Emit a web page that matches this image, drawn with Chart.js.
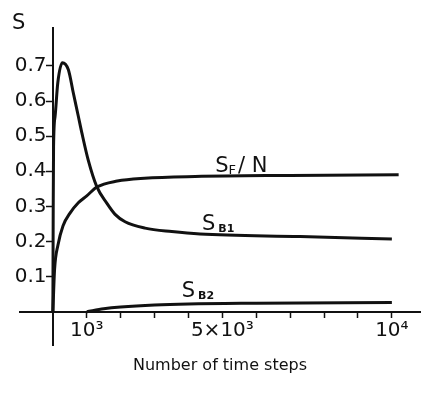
<!DOCTYPE html>
<html>
<head>
<meta charset="utf-8">
<script src="https://cdn.jsdelivr.net/npm/chart.js@4/dist/chart.umd.min.js"></script>
<style>
  body { margin: 0; background: #fff; }
  #wrap { width: 429px; height: 394px; }
</style>
</head>
<body>
<div id="wrap"><canvas id="chart1" width="429" height="394"></canvas></div>
<script>
    // time steps and values
    var sfnSteps = [0, 50, 150, 300, 500, 750, 1000, 1300, 1900, 2700, 4200, 7000, 10200];
    var sfnValues = [0, 0.12, 0.19, 0.245, 0.28, 0.31, 0.33, 0.355, 0.372, 0.38, 0.385, 0.388, 0.39];

    var sb1Steps = [0, 10, 20, 65, 145, 280, 457, 605, 752, 853, 1047, 1295, 1590, 1835, 2130, 2720, 3507, 4342, 7292, 10000];
    var sb1Values = [0, 0.3, 0.47, 0.556, 0.652, 0.709, 0.689, 0.622, 0.556, 0.51, 0.43, 0.356, 0.309, 0.277, 0.256, 0.238, 0.228, 0.221, 0.214, 0.207];

    var sb2Steps = [1000, 1500, 2000, 3000, 4000, 6000, 10000];
    var sb2Values = [0, 0.008, 0.013, 0.019, 0.022, 0.024, 0.026];

    var xTicks = [1000, 2000, 3000, 4000, 5000, 6000, 7000, 8000, 9000, 10000];
    var xTickLabels = { 1000: '10³', 5000: '5×10³', 10000: '10⁴' };
    var yTicks = [0.1, 0.2, 0.3, 0.4, 0.5, 0.6, 0.7];

    function toPoints(xs, ys) {
        return xs.map(function (x, i) { return { x: x, y: ys[i] }; });
    }

    var ink = '#111';
    var font = 'DejaVu Sans';

    // curve names with subscripts, plus the "S" on top of the y axis
    var textPlugin = {
        id: 'curveText',
        afterDraw: function (chart) {
            var c = chart.ctx, xs = chart.scales.x, ys = chart.scales.y;
            var marks = [
                { x: 4790, y: 0.398, s: 'F', rest: '/N', subFont: '13px "' + font + '"' },
                { x: 4400, y: 0.233, s: 'B1', rest: '', subFont: 'bold 11px "' + font + '"' },
                { x: 3800, y: 0.043, s: 'B2', rest: '', subFont: 'bold 11px "' + font + '"' }
            ];
            c.save();
            c.fillStyle = ink;
            c.textBaseline = 'alphabetic';
            marks.forEach(function (m) {
                var px = xs.getPixelForValue(m.x), py = ys.getPixelForValue(m.y);
                c.font = '21px "' + font + '"';
                c.fillText('S', px, py);
                px += c.measureText('S').width + (m.rest ? 0 : 3);
                c.font = m.subFont;
                c.fillText(m.s, px, py + 2);
                px += c.measureText(m.s).width + 2;
                if (m.rest) {
                    c.font = '21px "' + font + '"';
                    c.fillText(m.rest.split('').join(' '), px, py);
                }
            });
            c.font = '21px "' + font + '"';
            c.fillText('S', 12, 29);
            c.restore();
        }
    };

    var ctx1 = document.getElementById('chart1').getContext('2d');
    var chart1 = new Chart(ctx1, {
        type: 'line',
        data: {
            datasets: [
                { label: 'SF/N', data: toPoints(sfnSteps, sfnValues) },
                { label: 'SB1', data: toPoints(sb1Steps, sb1Values) },
                { label: 'SB2', data: toPoints(sb2Steps, sb2Values) }
            ]
        },
        options: {
            responsive: false,
            animation: false,
            layout: { padding: { left: 20, right: 9, top: 28, bottom: 49 } },
            elements: {
                line: { borderColor: ink, borderWidth: 3, cubicInterpolationMode: 'monotone', fill: false },
                point: { radius: 0 }
            },
            plugins: {
                legend: { display: false },
                tooltip: { enabled: false }
            },
            scales: {
                x: {
                    type: 'linear',
                    min: -970,
                    max: 10830,
                    position: { y: 0 },
                    afterBuildTicks: function (s) { s.ticks = xTicks.map(function (v) { return { value: v }; }); },
                    border: { display: true, color: ink, width: 2 },
                    grid: { drawOnChartArea: false, drawTicks: true, tickLength: 5, tickWidth: 1.5, tickColor: ink },
                    ticks: {
                        autoSkip: false, maxRotation: 0, padding: 2, color: ink,
                        font: { family: font, size: 20 },
                        callback: function (v) { return xTickLabels[v] || ''; }
                    },
                    title: {
                        display: true, text: 'Number of time steps', color: ink,
                        font: { family: font, size: 16 }, padding: { top: 12 }
                    }
                },
                y: {
                    type: 'linear',
                    min: -0.095,
                    max: 0.808,
                    position: { x: 0 },
                    afterBuildTicks: function (s) { s.ticks = yTicks.map(function (v) { return { value: v }; }); },
                    border: { display: true, color: ink, width: 2 },
                    grid: { drawOnChartArea: false, drawTicks: true, tickLength: 6, tickWidth: 1.5, tickColor: ink },
                    ticks: {
                        color: ink,
                        font: { family: font, size: 20 },
                        // the axis sits at x = 0, so the label gets a trailing space to clear the tick
                        callback: function (v) { return v.toFixed(1) + ' '; }
                    }
                }
            }
        },
        plugins: [textPlugin]
    });
</script>
</body>
</html>
